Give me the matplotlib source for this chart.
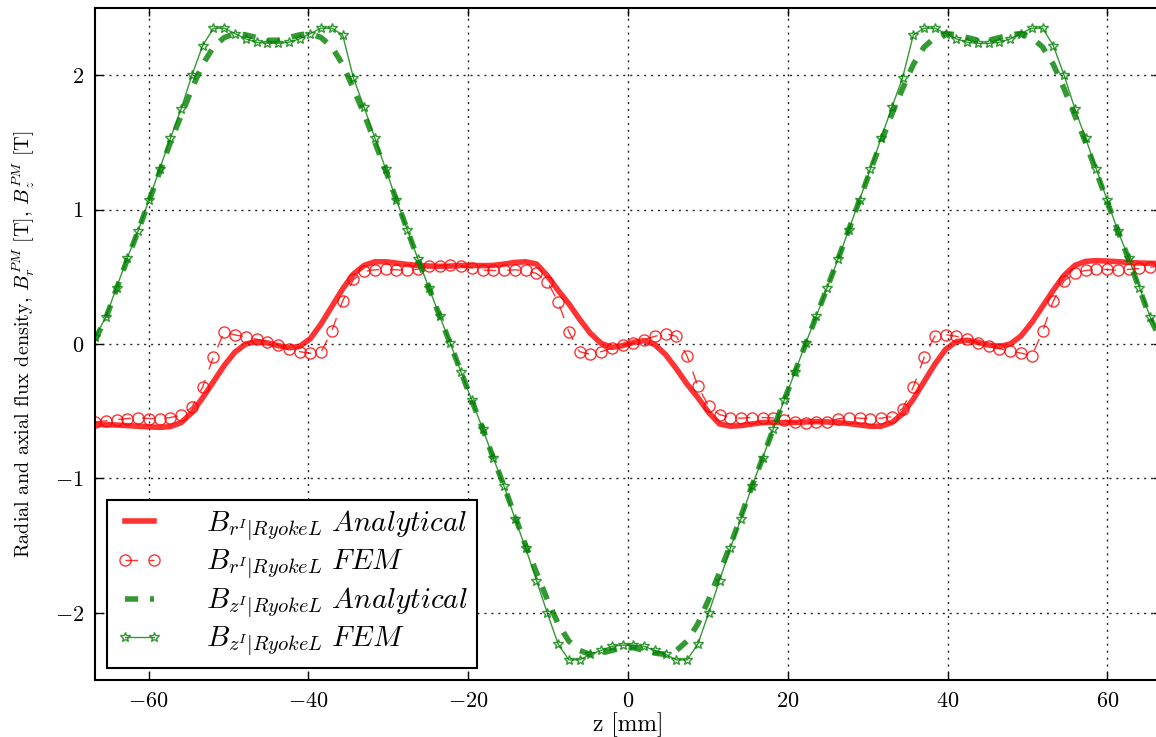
import numpy as np
import matplotlib
matplotlib.use("Agg")
import matplotlib.pyplot as plt

plt.rcParams.update({
    "font.family": "serif",
    "font.serif": ["cmr10", "DejaVu Serif"],
    "mathtext.fontset": "cm",
    "axes.formatter.use_mathtext": True,
    "axes.unicode_minus": True,
    "lines.dash_capstyle": "butt",
    "lines.scale_dashes": False,
})

# axial position [mm] (100 sample points)
z = np.linspace(-66.7, 66.7, 100)

br_analytical = [
    -0.600, -0.600, -0.603, -0.607, -0.612, -0.617, -0.620, -0.615, -0.585, -0.51,
    -0.40, -0.28, -0.16, -0.06, 0.00, 0.018, 0.008, -0.012, -0.028, -0.018,
    0.04, 0.15, 0.28, 0.41, 0.52, 0.585, 0.612, 0.612, 0.602, 0.592,
    0.585, 0.580, 0.578, 0.580, 0.584, 0.585, 0.583, 0.585, 0.595, 0.607,
    0.612, 0.595, 0.51, 0.40, 0.30, 0.185, 0.08, 0.005, -0.025, -0.012,
    0.012, 0.025, -0.005, -0.08, -0.185, -0.30, -0.40, -0.51, -0.595, -0.612,
    -0.607, -0.595, -0.585, -0.583, -0.585, -0.584, -0.580, -0.578, -0.580, -0.585,
    -0.592, -0.602, -0.612, -0.612, -0.585, -0.52, -0.41, -0.28, -0.15, -0.04,
    0.018, 0.028, 0.012, -0.008, -0.018, 0.00, 0.06, 0.16, 0.28, 0.40,
    0.51, 0.585, 0.615, 0.620, 0.617, 0.612, 0.607, 0.603, 0.600, 0.600,
]

br_fem = [
    -0.58, -0.572, -0.562, -0.555, -0.547, -0.555, -0.555, -0.547, -0.53, -0.47,
    -0.32, -0.095, 0.09, 0.067, 0.054, 0.035, 0.017, -0.007, -0.04, -0.057,
    -0.07, -0.06, 0.10, 0.32, 0.48, 0.54, 0.552, 0.557, 0.552, 0.547,
    0.557, 0.577, 0.582, 0.59, 0.582, 0.565, 0.55, 0.547, 0.547, 0.552,
    0.547, 0.525, 0.465, 0.316, 0.092, -0.057, -0.077, -0.057, -0.032, -0.007,
    0.007, 0.032, 0.057, 0.077, 0.057, -0.092, -0.316, -0.465, -0.525, -0.547,
    -0.552, -0.547, -0.547, -0.55, -0.565, -0.582, -0.59, -0.582, -0.577, -0.557,
    -0.547, -0.552, -0.557, -0.552, -0.54, -0.48, -0.32, -0.10, 0.06, 0.07,
    0.057, 0.04, 0.007, -0.017, -0.035, -0.054, -0.067, -0.09, 0.095, 0.32,
    0.47, 0.53, 0.547, 0.555, 0.555, 0.547, 0.555, 0.562, 0.572, 0.58,
]

bz_analytical = [
    0.03, 0.19, 0.41, 0.63, 0.84, 1.06, 1.28, 1.50, 1.70, 1.90,
    2.08, 2.21, 2.28, 2.31, 2.30, 2.28, 2.26, 2.26, 2.28, 2.30,
    2.31, 2.28, 2.21, 2.08, 1.90, 1.71, 1.50, 1.29, 1.07, 0.85,
    0.63, 0.42, 0.21, 0.00, -0.21, -0.42, -0.63, -0.85, -1.06, -1.28,
    -1.50, -1.70, -1.90, -2.08, -2.21, -2.28, -2.31, -2.30, -2.28, -2.26,
    -2.26, -2.28, -2.30, -2.31, -2.28, -2.21, -2.08, -1.90, -1.70, -1.50,
    -1.28, -1.06, -0.85, -0.63, -0.42, -0.21, 0.00, 0.21, 0.42, 0.63,
    0.85, 1.07, 1.29, 1.50, 1.71, 1.90, 2.08, 2.21, 2.28, 2.31,
    2.30, 2.28, 2.26, 2.26, 2.28, 2.30, 2.31, 2.28, 2.21, 2.08,
    1.90, 1.70, 1.50, 1.28, 1.06, 0.84, 0.63, 0.41, 0.19, 0.03,
]

bz_fem = [
    0.05, 0.20, 0.42, 0.64, 0.84, 1.07, 1.30, 1.53, 1.75, 2.00,
    2.22, 2.35, 2.35, 2.31, 2.27, 2.245, 2.237, 2.237, 2.245, 2.27,
    2.31, 2.35, 2.35, 2.30, 1.98, 1.76, 1.53, 1.30, 1.07, 0.85,
    0.63, 0.42, 0.21, 0.005, -0.21, -0.42, -0.63, -0.85, -1.06, -1.30,
    -1.52, -1.76, -2.00, -2.23, -2.35, -2.35, -2.31, -2.28, -2.25, -2.24,
    -2.24, -2.25, -2.28, -2.31, -2.35, -2.35, -2.23, -2.00, -1.76, -1.52,
    -1.30, -1.06, -0.85, -0.63, -0.42, -0.21, 0.005, 0.21, 0.42, 0.63,
    0.85, 1.07, 1.30, 1.53, 1.76, 1.98, 2.30, 2.35, 2.35, 2.31,
    2.27, 2.245, 2.237, 2.237, 2.245, 2.27, 2.31, 2.35, 2.35, 2.22,
    2.00, 1.75, 1.53, 1.30, 1.07, 0.84, 0.64, 0.42, 0.20, 0.05,
]

labels = [
    r"$B_{r^{I}|RyokeL}\ Analytical$",
    r"$B_{r^{I}|RyokeL}\ FEM$",
    r"$B_{z^{I}|RyokeL}\ Analytical$",
    r"$B_{z^{I}|RyokeL}\ FEM$",
]

xticks = [-60, -40, -20, 0, 20, 40, 60]
yticks = [-2, -1, 0, 1, 2]

W, H = 1156, 737
fig = plt.figure(figsize=(W / 100, H / 100), dpi=100)
ax = fig.add_axes([95 / W, 57 / H, 1066 / W, 672 / H])

red = (1.0, 0.0, 0.0)
green = (0.0, 0.5, 0.0)
alpha = 0.8

ax.plot(z, br_analytical, "-", color=red, lw=4, alpha=alpha, label=labels[0])
ax.plot(z, br_fem, "--", color=red, lw=1, alpha=alpha, dashes=(9, 8),
        marker="o", ms=8, mfc="none", mec=red, mew=1, label=labels[1])
ax.plot(z, bz_analytical, "--", color=green, lw=4, alpha=alpha, dashes=(9.5, 8.5),
        label=labels[2])
ax.plot(z, bz_fem, "-", color=green, lw=1, alpha=alpha,
        marker="*", ms=7, mfc="none", mec=green, mew=1, label=labels[3])

ax.set_xlim(-66.7, 66.7)
ax.set_ylim(-2.5, 2.5)
ax.set_xticks(xticks)
ax.set_yticks(yticks)
ax.grid(True, color="0.15", linestyle=(0, (1.5, 3.5)), lw=1)
ax.tick_params(direction="in", top=True, right=True, length=6, width=1,
               labelsize=16, pad=8)
for s in ax.spines.values():
    s.set_linewidth(1.5)

ax.set_xlabel("z [mm]", fontsize=17, labelpad=1)
ax.set_ylabel(r"Radial and axial flux density, $B_r^{PM}$ [T], $B_z^{PM}$ [T]",
              fontsize=14.5, labelpad=13)

leg = ax.legend(loc="lower left", fontsize=21, handlelength=1.6, numpoints=2,
                fancybox=False, framealpha=1, edgecolor="black",
                borderpad=0.3, handletextpad=1.5, labelspacing=0.14,
                borderaxespad=0.42)
leg.get_frame().set_linewidth(1.5)

fig.savefig("out.png", dpi=100)
